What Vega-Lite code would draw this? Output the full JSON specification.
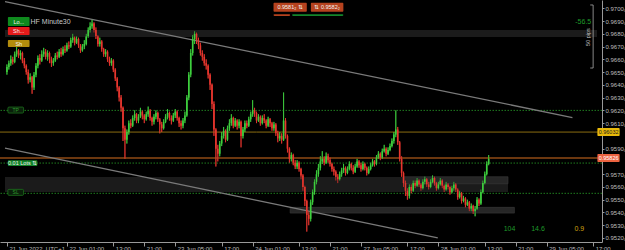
{
"$schema": "https://vega.github.io/schema/vega-lite/v6.json",
"width": 602, "height": 242,
"autosize": {"type": "none"},
"padding": {"left": 0, "top": 0, "right": 23, "bottom": 8},
"background": "#000000",
"config": {"view": {"stroke": null}, "font": "Liberation Sans", "axis": {"labelOverlap": false, "labelFontSize": 6, "grid": false, "title": null}},
"resolve": {"scale": {"color": "independent"}, "axis": {"x": "independent", "y": "independent"}},
"datasets": {
"candles": [
{"k":-31,"o":0.9650,"h":0.9656,"l":0.9648,"c":0.9654},
{"k":-30,"o":0.9654,"h":0.9659,"l":0.9652,"c":0.9657},
{"k":-29,"o":0.9657,"h":0.9663,"l":0.9655,"c":0.9660},
{"k":-28,"o":0.9660,"h":0.9662,"l":0.9656,"c":0.9658},
{"k":-27,"o":0.9658,"h":0.9666,"l":0.9657,"c":0.9664},
{"k":-26,"o":0.9664,"h":0.9670,"l":0.9662,"c":0.9667},
{"k":-25,"o":0.9667,"h":0.9668,"l":0.9661,"c":0.9663},
{"k":-24,"o":0.9663,"h":0.9667,"l":0.9660,"c":0.9665},
{"k":-23,"o":0.9665,"h":0.9666,"l":0.9657,"c":0.9659},
{"k":-22,"o":0.9659,"h":0.9661,"l":0.9653,"c":0.9655},
{"k":-21,"o":0.9655,"h":0.9656,"l":0.9648,"c":0.9650},
{"k":-20,"o":0.9650,"h":0.9652,"l":0.9641,"c":0.9644},
{"k":-19,"o":0.9644,"h":0.9649,"l":0.9642,"c":0.9646},
{"k":-18,"o":0.9646,"h":0.9647,"l":0.9633,"c":0.9638},
{"k":-17,"o":0.9638,"h":0.9650,"l":0.9636,"c":0.9648},
{"k":-16,"o":0.9648,"h":0.9657,"l":0.9646,"c":0.9655},
{"k":-15,"o":0.9655,"h":0.9663,"l":0.9653,"c":0.9661},
{"k":-14,"o":0.9661,"h":0.9664,"l":0.9656,"c":0.9659},
{"k":-13,"o":0.9659,"h":0.9667,"l":0.9658,"c":0.9664},
{"k":-12,"o":0.9664,"h":0.9669,"l":0.9662,"c":0.9666},
{"k":-11,"o":0.9666,"h":0.9668,"l":0.9660,"c":0.9662},
{"k":-10,"o":0.9662,"h":0.9667,"l":0.9659,"c":0.9665},
{"k":-9,"o":0.9665,"h":0.9666,"l":0.9657,"c":0.9660},
{"k":-8,"o":0.9660,"h":0.9662,"l":0.9654,"c":0.9657},
{"k":-7,"o":0.9657,"h":0.9661,"l":0.9655,"c":0.9659},
{"k":-6,"o":0.9659,"h":0.9665,"l":0.9658,"c":0.9663},
{"k":-5,"o":0.9663,"h":0.9666,"l":0.9660,"c":0.9662},
{"k":-4,"o":0.9662,"h":0.9668,"l":0.9661,"c":0.9666},
{"k":-3,"o":0.9666,"h":0.9669,"l":0.9662,"c":0.9664},
{"k":-2,"o":0.9664,"h":0.9670,"l":0.9663,"c":0.9668},
{"k":-1,"o":0.9668,"h":0.9671,"l":0.9665,"c":0.9667},
{"k":0,"o":0.9667,"h":0.9673,"l":0.9666,"c":0.9671},
{"k":1,"o":0.9671,"h":0.9674,"l":0.9668,"c":0.9670},
{"k":2,"o":0.9670,"h":0.9677,"l":0.9669,"c":0.9675},
{"k":3,"o":0.9675,"h":0.9680,"l":0.9673,"c":0.9677},
{"k":4,"o":0.9677,"h":0.9678,"l":0.9671,"c":0.9673},
{"k":5,"o":0.9673,"h":0.9678,"l":0.9672,"c":0.9676},
{"k":6,"o":0.9676,"h":0.9677,"l":0.9669,"c":0.9671},
{"k":7,"o":0.9671,"h":0.9672,"l":0.9665,"c":0.9667},
{"k":8,"o":0.9667,"h":0.9672,"l":0.9666,"c":0.9670},
{"k":9,"o":0.9670,"h":0.9675,"l":0.9668,"c":0.9672},
{"k":10,"o":0.9672,"h":0.9680,"l":0.9671,"c":0.9678},
{"k":11,"o":0.9678,"h":0.9685,"l":0.9677,"c":0.9683},
{"k":12,"o":0.9683,"h":0.9689,"l":0.9681,"c":0.9686},
{"k":13,"o":0.9686,"h":0.9691,"l":0.9684,"c":0.9688},
{"k":14,"o":0.9688,"h":0.9689,"l":0.9681,"c":0.9683},
{"k":15,"o":0.9683,"h":0.9685,"l":0.9676,"c":0.9678},
{"k":16,"o":0.9678,"h":0.9679,"l":0.9670,"c":0.9672},
{"k":17,"o":0.9672,"h":0.9677,"l":0.9670,"c":0.9674},
{"k":18,"o":0.9674,"h":0.9675,"l":0.9666,"c":0.9668},
{"k":19,"o":0.9668,"h":0.9669,"l":0.9662,"c":0.9664},
{"k":20,"o":0.9664,"h":0.9668,"l":0.9662,"c":0.9666},
{"k":21,"o":0.9666,"h":0.9667,"l":0.9658,"c":0.9660},
{"k":22,"o":0.9660,"h":0.9662,"l":0.9655,"c":0.9657},
{"k":23,"o":0.9657,"h":0.9661,"l":0.9655,"c":0.9659},
{"k":24,"o":0.9659,"h":0.9660,"l":0.9650,"c":0.9652},
{"k":25,"o":0.9652,"h":0.9653,"l":0.9643,"c":0.9645},
{"k":26,"o":0.9645,"h":0.9646,"l":0.9635,"c":0.9638},
{"k":27,"o":0.9638,"h":0.9639,"l":0.9627,"c":0.9630},
{"k":28,"o":0.9630,"h":0.9632,"l":0.9619,"c":0.9622},
{"k":29,"o":0.9622,"h":0.9623,"l":0.9596,"c":0.9606},
{"k":30,"o":0.9606,"h":0.9608,"l":0.9582,"c":0.9597},
{"k":31,"o":0.9597,"h":0.9605,"l":0.9594,"c":0.9603},
{"k":32,"o":0.9603,"h":0.9612,"l":0.9601,"c":0.9610},
{"k":33,"o":0.9610,"h":0.9613,"l":0.9606,"c":0.9608},
{"k":34,"o":0.9608,"h":0.9616,"l":0.9607,"c":0.9614},
{"k":35,"o":0.9614,"h":0.9620,"l":0.9612,"c":0.9617},
{"k":36,"o":0.9617,"h":0.9618,"l":0.9610,"c":0.9612},
{"k":37,"o":0.9612,"h":0.9617,"l":0.9610,"c":0.9615},
{"k":38,"o":0.9615,"h":0.9622,"l":0.9614,"c":0.9619},
{"k":39,"o":0.9619,"h":0.9620,"l":0.9613,"c":0.9616},
{"k":40,"o":0.9616,"h":0.9617,"l":0.9610,"c":0.9613},
{"k":41,"o":0.9613,"h":0.9619,"l":0.9612,"c":0.9617},
{"k":42,"o":0.9617,"h":0.9623,"l":0.9615,"c":0.9620},
{"k":43,"o":0.9620,"h":0.9621,"l":0.9612,"c":0.9614},
{"k":44,"o":0.9614,"h":0.9615,"l":0.9608,"c":0.9611},
{"k":45,"o":0.9611,"h":0.9617,"l":0.9609,"c":0.9615},
{"k":46,"o":0.9615,"h":0.9620,"l":0.9613,"c":0.9618},
{"k":47,"o":0.9618,"h":0.9619,"l":0.9611,"c":0.9613},
{"k":48,"o":0.9613,"h":0.9614,"l":0.9602,"c":0.9609},
{"k":49,"o":0.9609,"h":0.9611,"l":0.9603,"c":0.9606},
{"k":50,"o":0.9606,"h":0.9613,"l":0.9605,"c":0.9611},
{"k":51,"o":0.9611,"h":0.9617,"l":0.9610,"c":0.9615},
{"k":52,"o":0.9615,"h":0.9621,"l":0.9613,"c":0.9618},
{"k":53,"o":0.9618,"h":0.9619,"l":0.9612,"c":0.9614},
{"k":54,"o":0.9614,"h":0.9616,"l":0.9609,"c":0.9612},
{"k":55,"o":0.9612,"h":0.9618,"l":0.9611,"c":0.9616},
{"k":56,"o":0.9616,"h":0.9621,"l":0.9614,"c":0.9619},
{"k":57,"o":0.9619,"h":0.9620,"l":0.9612,"c":0.9614},
{"k":58,"o":0.9614,"h":0.9615,"l":0.9607,"c":0.9610},
{"k":59,"o":0.9610,"h":0.9612,"l":0.9605,"c":0.9608},
{"k":60,"o":0.9608,"h":0.9614,"l":0.9606,"c":0.9612},
{"k":61,"o":0.9612,"h":0.9619,"l":0.9610,"c":0.9616},
{"k":62,"o":0.9616,"h":0.9632,"l":0.9615,"c":0.9630},
{"k":63,"o":0.9630,"h":0.9650,"l":0.9628,"c":0.9648},
{"k":64,"o":0.9648,"h":0.9668,"l":0.9646,"c":0.9665},
{"k":65,"o":0.9665,"h":0.9679,"l":0.9663,"c":0.9676},
{"k":66,"o":0.9676,"h":0.9682,"l":0.9672,"c":0.9680},
{"k":67,"o":0.9680,"h":0.9681,"l":0.9672,"c":0.9675},
{"k":68,"o":0.9675,"h":0.9677,"l":0.9668,"c":0.9671},
{"k":69,"o":0.9671,"h":0.9673,"l":0.9663,"c":0.9665},
{"k":70,"o":0.9665,"h":0.9667,"l":0.9659,"c":0.9662},
{"k":71,"o":0.9662,"h":0.9664,"l":0.9655,"c":0.9657},
{"k":72,"o":0.9657,"h":0.9660,"l":0.9652,"c":0.9655},
{"k":73,"o":0.9655,"h":0.9656,"l":0.9645,"c":0.9648},
{"k":74,"o":0.9648,"h":0.9649,"l":0.9636,"c":0.9640},
{"k":75,"o":0.9640,"h":0.9641,"l":0.9621,"c":0.9625},
{"k":76,"o":0.9625,"h":0.9627,"l":0.9600,"c":0.9605},
{"k":77,"o":0.9605,"h":0.9606,"l":0.9576,"c":0.9590},
{"k":78,"o":0.9590,"h":0.9593,"l":0.9580,"c":0.9586},
{"k":79,"o":0.9586,"h":0.9596,"l":0.9584,"c":0.9594},
{"k":80,"o":0.9594,"h":0.9603,"l":0.9592,"c":0.9600},
{"k":81,"o":0.9600,"h":0.9607,"l":0.9598,"c":0.9604},
{"k":82,"o":0.9604,"h":0.9605,"l":0.9595,"c":0.9597},
{"k":83,"o":0.9597,"h":0.9608,"l":0.9596,"c":0.9606},
{"k":84,"o":0.9606,"h":0.9613,"l":0.9604,"c":0.9610},
{"k":85,"o":0.9610,"h":0.9617,"l":0.9608,"c":0.9614},
{"k":86,"o":0.9614,"h":0.9615,"l":0.9606,"c":0.9608},
{"k":87,"o":0.9608,"h":0.9614,"l":0.9607,"c":0.9612},
{"k":88,"o":0.9612,"h":0.9613,"l":0.9605,"c":0.9608},
{"k":89,"o":0.9608,"h":0.9613,"l":0.9606,"c":0.9611},
{"k":90,"o":0.9611,"h":0.9612,"l":0.9591,"c":0.9600},
{"k":91,"o":0.9600,"h":0.9607,"l":0.9598,"c":0.9605},
{"k":92,"o":0.9605,"h":0.9612,"l":0.9603,"c":0.9610},
{"k":93,"o":0.9610,"h":0.9612,"l":0.9606,"c":0.9608},
{"k":94,"o":0.9608,"h":0.9615,"l":0.9607,"c":0.9613},
{"k":95,"o":0.9613,"h":0.9619,"l":0.9611,"c":0.9617},
{"k":96,"o":0.9617,"h":0.9628,"l":0.9615,"c":0.9620},
{"k":97,"o":0.9620,"h":0.9622,"l":0.9615,"c":0.9618},
{"k":98,"o":0.9618,"h":0.9619,"l":0.9610,"c":0.9612},
{"k":99,"o":0.9612,"h":0.9617,"l":0.9611,"c":0.9615},
{"k":100,"o":0.9615,"h":0.9616,"l":0.9608,"c":0.9610},
{"k":101,"o":0.9610,"h":0.9616,"l":0.9609,"c":0.9614},
{"k":102,"o":0.9614,"h":0.9617,"l":0.9610,"c":0.9612},
{"k":103,"o":0.9612,"h":0.9613,"l":0.9606,"c":0.9608},
{"k":104,"o":0.9608,"h":0.9615,"l":0.9607,"c":0.9613},
{"k":105,"o":0.9613,"h":0.9614,"l":0.9607,"c":0.9610},
{"k":106,"o":0.9610,"h":0.9611,"l":0.9604,"c":0.9606},
{"k":107,"o":0.9606,"h":0.9611,"l":0.9604,"c":0.9609},
{"k":108,"o":0.9609,"h":0.9610,"l":0.9600,"c":0.9602},
{"k":109,"o":0.9602,"h":0.9604,"l":0.9595,"c":0.9598},
{"k":110,"o":0.9598,"h":0.9603,"l":0.9596,"c":0.9600},
{"k":111,"o":0.9600,"h":0.9602,"l":0.9594,"c":0.9597},
{"k":112,"o":0.9597,"h":0.9634,"l":0.9596,"c":0.9612},
{"k":113,"o":0.9612,"h":0.9614,"l":0.9598,"c":0.9600},
{"k":114,"o":0.9600,"h":0.9601,"l":0.9587,"c":0.9590},
{"k":115,"o":0.9590,"h":0.9591,"l":0.9579,"c":0.9582},
{"k":116,"o":0.9582,"h":0.9587,"l":0.9580,"c":0.9585},
{"k":117,"o":0.9585,"h":0.9586,"l":0.9577,"c":0.9579},
{"k":118,"o":0.9579,"h":0.9581,"l":0.9574,"c":0.9576},
{"k":119,"o":0.9576,"h":0.9581,"l":0.9574,"c":0.9579},
{"k":120,"o":0.9579,"h":0.9580,"l":0.9572,"c":0.9574},
{"k":121,"o":0.9574,"h":0.9575,"l":0.9566,"c":0.9569},
{"k":122,"o":0.9569,"h":0.9570,"l":0.9557,"c":0.9560},
{"k":123,"o":0.9560,"h":0.9561,"l":0.9545,"c":0.9549},
{"k":124,"o":0.9549,"h":0.9550,"l":0.9525,"c":0.9538},
{"k":125,"o":0.9538,"h":0.9541,"l":0.9530,"c":0.9535},
{"k":126,"o":0.9535,"h":0.9550,"l":0.9533,"c":0.9548},
{"k":127,"o":0.9548,"h":0.9558,"l":0.9546,"c":0.9556},
{"k":128,"o":0.9556,"h":0.9566,"l":0.9554,"c":0.9564},
{"k":129,"o":0.9564,"h":0.9573,"l":0.9562,"c":0.9570},
{"k":130,"o":0.9570,"h":0.9578,"l":0.9568,"c":0.9575},
{"k":131,"o":0.9575,"h":0.9584,"l":0.9573,"c":0.9580},
{"k":132,"o":0.9580,"h":0.9588,"l":0.9578,"c":0.9582},
{"k":133,"o":0.9582,"h":0.9584,"l":0.9577,"c":0.9579},
{"k":134,"o":0.9579,"h":0.9587,"l":0.9578,"c":0.9584},
{"k":135,"o":0.9584,"h":0.9586,"l":0.9579,"c":0.9581},
{"k":136,"o":0.9581,"h":0.9583,"l":0.9576,"c":0.9578},
{"k":137,"o":0.9578,"h":0.9579,"l":0.9572,"c":0.9574},
{"k":138,"o":0.9574,"h":0.9576,"l":0.9569,"c":0.9572},
{"k":139,"o":0.9572,"h":0.9573,"l":0.9565,"c":0.9568},
{"k":140,"o":0.9568,"h":0.9570,"l":0.9563,"c":0.9566},
{"k":141,"o":0.9566,"h":0.9572,"l":0.9565,"c":0.9570},
{"k":142,"o":0.9570,"h":0.9575,"l":0.9568,"c":0.9573},
{"k":143,"o":0.9573,"h":0.9578,"l":0.9571,"c":0.9575},
{"k":144,"o":0.9575,"h":0.9576,"l":0.9569,"c":0.9571},
{"k":145,"o":0.9571,"h":0.9576,"l":0.9570,"c":0.9574},
{"k":146,"o":0.9574,"h":0.9580,"l":0.9573,"c":0.9578},
{"k":147,"o":0.9578,"h":0.9579,"l":0.9573,"c":0.9575},
{"k":148,"o":0.9575,"h":0.9577,"l":0.9570,"c":0.9572},
{"k":149,"o":0.9572,"h":0.9578,"l":0.9571,"c":0.9576},
{"k":150,"o":0.9576,"h":0.9582,"l":0.9575,"c":0.9580},
{"k":151,"o":0.9580,"h":0.9581,"l":0.9575,"c":0.9577},
{"k":152,"o":0.9577,"h":0.9579,"l":0.9572,"c":0.9574},
{"k":153,"o":0.9574,"h":0.9580,"l":0.9573,"c":0.9578},
{"k":154,"o":0.9578,"h":0.9579,"l":0.9573,"c":0.9575},
{"k":155,"o":0.9575,"h":0.9576,"l":0.9569,"c":0.9571},
{"k":156,"o":0.9571,"h":0.9576,"l":0.9570,"c":0.9574},
{"k":157,"o":0.9574,"h":0.9579,"l":0.9573,"c":0.9577},
{"k":158,"o":0.9577,"h":0.9582,"l":0.9576,"c":0.9580},
{"k":159,"o":0.9580,"h":0.9581,"l":0.9576,"c":0.9578},
{"k":160,"o":0.9578,"h":0.9585,"l":0.9577,"c":0.9583},
{"k":161,"o":0.9583,"h":0.9588,"l":0.9582,"c":0.9586},
{"k":162,"o":0.9586,"h":0.9587,"l":0.9581,"c":0.9583},
{"k":163,"o":0.9583,"h":0.9590,"l":0.9582,"c":0.9588},
{"k":164,"o":0.9588,"h":0.9593,"l":0.9587,"c":0.9590},
{"k":165,"o":0.9590,"h":0.9591,"l":0.9584,"c":0.9586},
{"k":166,"o":0.9586,"h":0.9591,"l":0.9585,"c":0.9589},
{"k":167,"o":0.9589,"h":0.9594,"l":0.9588,"c":0.9592},
{"k":168,"o":0.9592,"h":0.9598,"l":0.9591,"c":0.9596},
{"k":169,"o":0.9596,"h":0.9603,"l":0.9594,"c":0.9601},
{"k":170,"o":0.9601,"h":0.9620,"l":0.9599,"c":0.9605},
{"k":171,"o":0.9605,"h":0.9607,"l":0.9593,"c":0.9595},
{"k":172,"o":0.9595,"h":0.9596,"l":0.9580,"c":0.9582},
{"k":173,"o":0.9582,"h":0.9584,"l":0.9568,"c":0.9571},
{"k":174,"o":0.9571,"h":0.9572,"l":0.9560,"c":0.9563},
{"k":175,"o":0.9563,"h":0.9565,"l":0.9553,"c":0.9557},
{"k":176,"o":0.9557,"h":0.9559,"l":0.9550,"c":0.9553},
{"k":177,"o":0.9553,"h":0.9562,"l":0.9551,"c":0.9560},
{"k":178,"o":0.9560,"h":0.9562,"l":0.9555,"c":0.9557},
{"k":179,"o":0.9557,"h":0.9565,"l":0.9556,"c":0.9563},
{"k":180,"o":0.9563,"h":0.9565,"l":0.9559,"c":0.9561},
{"k":181,"o":0.9561,"h":0.9567,"l":0.9560,"c":0.9565},
{"k":182,"o":0.9565,"h":0.9566,"l":0.9560,"c":0.9562},
{"k":183,"o":0.9562,"h":0.9563,"l":0.9557,"c":0.9559},
{"k":184,"o":0.9559,"h":0.9566,"l":0.9558,"c":0.9564},
{"k":185,"o":0.9564,"h":0.9568,"l":0.9562,"c":0.9566},
{"k":186,"o":0.9566,"h":0.9567,"l":0.9560,"c":0.9562},
{"k":187,"o":0.9562,"h":0.9564,"l":0.9558,"c":0.9560},
{"k":188,"o":0.9560,"h":0.9566,"l":0.9559,"c":0.9564},
{"k":189,"o":0.9564,"h":0.9569,"l":0.9563,"c":0.9567},
{"k":190,"o":0.9567,"h":0.9568,"l":0.9561,"c":0.9563},
{"k":191,"o":0.9563,"h":0.9564,"l":0.9557,"c":0.9559},
{"k":192,"o":0.9559,"h":0.9564,"l":0.9558,"c":0.9562},
{"k":193,"o":0.9562,"h":0.9567,"l":0.9561,"c":0.9565},
{"k":194,"o":0.9565,"h":0.9566,"l":0.9559,"c":0.9561},
{"k":195,"o":0.9561,"h":0.9562,"l":0.9556,"c":0.9558},
{"k":196,"o":0.9558,"h":0.9564,"l":0.9557,"c":0.9562},
{"k":197,"o":0.9562,"h":0.9563,"l":0.9558,"c":0.9560},
{"k":198,"o":0.9560,"h":0.9561,"l":0.9554,"c":0.9556},
{"k":199,"o":0.9556,"h":0.9561,"l":0.9555,"c":0.9559},
{"k":200,"o":0.9559,"h":0.9564,"l":0.9557,"c":0.9562},
{"k":201,"o":0.9562,"h":0.9563,"l":0.9556,"c":0.9558},
{"k":202,"o":0.9558,"h":0.9559,"l":0.9550,"c":0.9552},
{"k":203,"o":0.9552,"h":0.9557,"l":0.9551,"c":0.9555},
{"k":204,"o":0.9555,"h":0.9556,"l":0.9547,"c":0.9549},
{"k":205,"o":0.9549,"h":0.9553,"l":0.9548,"c":0.9551},
{"k":206,"o":0.9551,"h":0.9552,"l":0.9544,"c":0.9546},
{"k":207,"o":0.9546,"h":0.9550,"l":0.9545,"c":0.9548},
{"k":208,"o":0.9548,"h":0.9549,"l":0.9541,"c":0.9543},
{"k":209,"o":0.9543,"h":0.9547,"l":0.9541,"c":0.9545},
{"k":210,"o":0.9545,"h":0.9546,"l":0.9539,"c":0.9541},
{"k":211,"o":0.9541,"h":0.9545,"l":0.9537,"c":0.9543},
{"k":212,"o":0.9543,"h":0.9552,"l":0.9542,"c":0.9550},
{"k":213,"o":0.9550,"h":0.9551,"l":0.9545,"c":0.9547},
{"k":214,"o":0.9547,"h":0.9558,"l":0.9546,"c":0.9556},
{"k":215,"o":0.9556,"h":0.9565,"l":0.9555,"c":0.9563},
{"k":216,"o":0.9563,"h":0.9572,"l":0.9562,"c":0.9570},
{"k":217,"o":0.9570,"h":0.9580,"l":0.9569,"c":0.9578},
{"k":218,"o":0.9578,"h":0.9585,"l":0.9577,"c":0.9582}
]
},
"layer": [
{
"data": {"name": "candles"},
"mark": {"type": "rule", "strokeWidth": 0.8},
"encoding": {
"x": {"field": "k", "type": "quantitative", "scale": {"domain": [-32, 274], "nice": false, "zero": false},
"axis": {"values": [-31,0,24,40,56,80,96,120,136,152,176,192,216,232,248,272],
"labelExpr": "['21 Jun 2022, UTC+1','22 Jun 01:00','13:00','21:00','23 Jun 05:00','17:00','24 Jun 01:00','13:00','21:00','27 Jun 05:00','17:00','28 Jun 01:00','13:00','21:00','29 Jun 05:00','17:00'][indexof([-31,0,24,40,56,80,96,120,136,152,176,192,216,232,248,272], datum.value)]",
"labelAlign": "left", "labelOffset": 2, "labelColor": "#bdbdbd", "labelFontSize": 6, "labelPadding": -1,
"labelOverlap": false, "labelBound": false, "labelFlush": false,
"tickColor": "#999999", "tickSize": 4, "domainColor": "#999999", "grid": false, "title": null}},
"y": {"field": "l", "type": "quantitative", "scale": {"domain": [0.951685, 0.97065], "nice": false, "zero": false},
"axis": {"orient": "right", "values": [0.952,0.953,0.954,0.955,0.956,0.957,0.959,0.961,0.962,0.963,0.964,0.965,0.966,0.967,0.968,0.969,0.97],
"labelExpr": "format(datum.value, '.4f') + '₀'", "labelColor": "#bdbdbd", "labelFontSize": 6, "labelPadding": 1,
"labelOverlap": false, "labelBound": false, "labelFlush": false,
"tickColor": "#999999", "tickSize": 2, "domainColor": "#999999", "grid": false, "title": null}},
"y2": {"field": "h"},
"color": {"condition": {"test": "datum.c >= datum.o", "value": "#3ecf3e"}, "value": "#e8362e"}
}
},
{
"data": {"values": [{"k":-32,"k2":274,"p":0.9683,"p2":0.96775},{"k":-32,"k2":228,"p":0.95677,"p2":0.9556}]},
"mark": {"type": "rect", "fill": "#1b1b1b"},
"encoding": {
"x": {"field": "k", "type": "quantitative", "scale": {"domain": [-32, 274], "nice": false, "zero": false}, "axis": null},
"x2": {"field": "k2"},
"y": {"field": "p", "type": "quantitative", "scale": {"domain": [0.951685, 0.97065], "nice": false, "zero": false}, "axis": null},
"y2": {"field": "p2"}
}
},
{
"data": {"values": [{"k":174,"k2":228,"p":0.9568,"p2":0.95625},{"k":115.4,"k2":231.3,"p":0.9544,"p2":0.95395}]},
"mark": {"type": "rect", "fill": "#262626", "stroke": "#3a3a3a", "strokeWidth": 0.6},
"encoding": {
"x": {"field": "k", "type": "quantitative", "scale": {"domain": [-32, 274], "nice": false, "zero": false}, "axis": null},
"x2": {"field": "k2"},
"y": {"field": "p", "type": "quantitative", "scale": {"domain": [0.951685, 0.97065], "nice": false, "zero": false}, "axis": null},
"y2": {"field": "p2"}
}
},
{
"data": {"values": [{"p":0.9620},{"p":0.95787},{"p":0.9555}]},
"mark": {"type": "rule", "stroke": "#1f7d1f", "strokeWidth": 1, "strokeDash": [1.5, 1.5]},
"encoding": {
"y": {"field": "p", "type": "quantitative", "scale": {"domain": [0.951685, 0.97065], "nice": false, "zero": false}, "axis": null}
}
},
{
"data": {"values": [{"p":0.9603}]},
"mark": {"type": "rule", "stroke": "#8a6c10", "strokeWidth": 1},
"encoding": {
"y": {"field": "p", "type": "quantitative", "scale": {"domain": [0.951685, 0.97065], "nice": false, "zero": false}, "axis": null}
}
},
{
"data": {"values": [{"p":0.95826}]},
"mark": {"type": "rule", "stroke": "#8f4a14", "strokeWidth": 1.5},
"encoding": {
"y": {"field": "p", "type": "quantitative", "scale": {"domain": [0.951685, 0.97065], "nice": false, "zero": false}, "axis": null}
}
},
{
"data": {"values": [{"id":"a","k":-32,"p":0.97052},{"id":"a","k":261.3,"p":0.96144},{"id":"b","k":-32,"p":0.95905},{"id":"b","k":191.7,"p":0.9520}]},
"mark": {"type": "line", "stroke": "#7a7a7a", "strokeWidth": 1.3},
"encoding": {
"x": {"field": "k", "type": "quantitative", "scale": {"domain": [-32, 274], "nice": false, "zero": false}, "axis": null},
"y": {"field": "p", "type": "quantitative", "scale": {"domain": [0.951685, 0.97065], "nice": false, "zero": false}, "axis": null},
"detail": {"field": "id"}
}
},
{
"data": {"name": "candles"},
"mark": {"type": "rule", "strokeWidth": 0.8},
"encoding": {
"x": {"field": "k", "type": "quantitative", "scale": {"domain": [-32, 274], "nice": false, "zero": false}, "axis": null},
"y": {"field": "l", "type": "quantitative", "scale": {"domain": [0.951685, 0.97065], "nice": false, "zero": false}, "axis": null},
"y2": {"field": "h"},
"color": {"condition": {"test": "datum.c >= datum.o", "value": "#3ecf3e"}, "value": "#e8362e"}
}
},
{
"data": {"name": "candles"},
"mark": {"type": "bar", "size": 1.6},
"encoding": {
"x": {"field": "k", "type": "quantitative", "scale": {"domain": [-32, 274], "nice": false, "zero": false}, "axis": null},
"y": {"field": "o", "type": "quantitative", "scale": {"domain": [0.951685, 0.97065], "nice": false, "zero": false}, "axis": null},
"y2": {"field": "c"},
"color": {"condition": {"test": "datum.c >= datum.o", "value": "#3ecf3e"}, "value": "#e8362e"}
}
},
{
"data": {"values": [{"k":270.5,"p":0.97026,"o":1},{"k":272.0,"p":0.97026,"o":2},{"k":272.0,"p":0.96532,"o":3},{"k":270.5,"p":0.96532,"o":4}]},
"mark": {"type": "line", "stroke": "#aaaaaa", "strokeWidth": 0.8},
"encoding": {
"x": {"field": "k", "type": "quantitative", "scale": {"domain": [-32, 274], "nice": false, "zero": false}, "axis": null},
"y": {"field": "p", "type": "quantitative", "scale": {"domain": [0.951685, 0.97065], "nice": false, "zero": false}, "axis": null},
"order": {"field": "o"}
}
},
{
"data": {"values": [{"k":-30.5,"k2":-19.3,"p":0.96932,"p2":0.96861,"b":"g"},{"k":-30.5,"k2":-19.3,"p":0.96853,"p2":0.9679,"b":"r"},{"k":-30.5,"k2":-19.3,"p":0.96751,"p2":0.96697,"b":"y"},{"k":106.8,"k2":124.0,"p":0.97044,"p2":0.96973,"b":"o"},{"k":126.1,"k2":142.9,"p":0.97044,"p2":0.96973,"b":"o"},{"k":106.8,"k2":115.4,"p":0.96953,"p2":0.96940,"b":"o"},{"k":116.4,"k2":142.9,"p":0.96953,"p2":0.96940,"b":"d"},{"k":-30.5,"k2":-15.3,"p":0.9581,"p2":0.95764,"b":"d"}]},
"mark": {"type": "rect", "cornerRadius": 1},
"encoding": {
"x": {"field": "k", "type": "quantitative", "scale": {"domain": [-32, 274], "nice": false, "zero": false}, "axis": null},
"x2": {"field": "k2"},
"y": {"field": "p", "type": "quantitative", "scale": {"domain": [0.951685, 0.97065], "nice": false, "zero": false}, "axis": null},
"y2": {"field": "p2"},
"color": {"field": "b", "type": "nominal", "scale": {"domain": ["g","r","y","o","d"], "range": ["#0f8a1e","#e51b1b","#b38c0c","#b5421e","#13852a"]}, "legend": null}
}
},
{
"data": {"values": [{"k":-30.5,"k2":-22.4,"p":0.96226,"p2":0.96179},{"k":-30.5,"k2":-22.4,"p":0.95581,"p2":0.95534}]},
"mark": {"type": "rect", "fill": "#0a1f0a", "stroke": "#1f7d1f", "strokeWidth": 0.7, "cornerRadius": 1},
"encoding": {
"x": {"field": "k", "type": "quantitative", "scale": {"domain": [-32, 274], "nice": false, "zero": false}, "axis": null},
"x2": {"field": "k2"},
"y": {"field": "p", "type": "quantitative", "scale": {"domain": [0.951685, 0.97065], "nice": false, "zero": false}, "axis": null},
"y2": {"field": "p2"}
}
},
{
"data": {"values": [{"k":274.2,"k2":285.7,"p":0.96061,"p2":0.95999,"b":"y"},{"k":274.2,"k2":285.7,"p":0.95858,"p2":0.95795,"b":"o"}]},
"mark": {"type": "rect", "clip": false, "cornerRadius": 1},
"encoding": {
"x": {"field": "k", "type": "quantitative", "scale": {"domain": [-32, 274], "nice": false, "zero": false}, "axis": null},
"x2": {"field": "k2"},
"y": {"field": "p", "type": "quantitative", "scale": {"domain": [0.951685, 0.97065], "nice": false, "zero": false}, "axis": null},
"y2": {"field": "p2"},
"color": {"field": "b", "type": "nominal", "scale": {"domain": ["y","o"], "range": ["#e8b90a","#ec6340"]}, "legend": null}
}
},
{
"data": {"values": [{"k":-24.9,"p":0.96896,"t":"Lo..."},{"k":-24.9,"p":0.96821,"t":"Sh..."},{"k":-24.9,"p":0.96724,"t":"Sh"},{"k":115.4,"p":0.97008,"t":"0.9581₂   ⇅"},{"k":134.5,"p":0.97008,"t":"⇅   0.9582₂"},{"k":-22.9,"p":0.95787,"t":"0.01 Lots ⇅"}]},
"mark": {"type": "text", "fontSize": 5.5, "color": "#f2f2f2", "baseline": "middle", "align": "center"},
"encoding": {
"x": {"field": "k", "type": "quantitative", "scale": {"domain": [-32, 274], "nice": false, "zero": false}, "axis": null},
"y": {"field": "p", "type": "quantitative", "scale": {"domain": [0.951685, 0.97065], "nice": false, "zero": false}, "axis": null},
"text": {"field": "t"}
}
},
{
"data": {"values": [{"k":-26.5,"p":0.96203,"t":"TP"},{"k":-26.5,"p":0.95557,"t":"SL"}]},
"mark": {"type": "text", "fontSize": 5, "color": "#2f9a2f", "baseline": "middle", "align": "center"},
"encoding": {
"x": {"field": "k", "type": "quantitative", "scale": {"domain": [-32, 274], "nice": false, "zero": false}, "axis": null},
"y": {"field": "p", "type": "quantitative", "scale": {"domain": [0.951685, 0.97065], "nice": false, "zero": false}, "axis": null},
"text": {"field": "t"}
}
},
{
"data": {"values": [{"k":-18.8,"p":0.96896,"t":"HF  Minute30"}]},
"mark": {"type": "text", "fontSize": 7, "color": "#c8c8c8", "baseline": "middle", "align": "left"},
"encoding": {
"x": {"field": "k", "type": "quantitative", "scale": {"domain": [-32, 274], "nice": false, "zero": false}, "axis": null},
"y": {"field": "p", "type": "quantitative", "scale": {"domain": [0.951685, 0.97065], "nice": false, "zero": false}, "axis": null},
"text": {"field": "t"}
}
},
{
"data": {"values": [{"k":280,"p":0.9603,"t":"0.96032"}]},
"mark": {"type": "text", "fontSize": 5.5, "baseline": "middle", "align": "center", "clip": false, "color": "#1a1a1a"},
"encoding": {
"x": {"field": "k", "type": "quantitative", "scale": {"domain": [-32, 274], "nice": false, "zero": false}, "axis": null},
"y": {"field": "p", "type": "quantitative", "scale": {"domain": [0.951685, 0.97065], "nice": false, "zero": false}, "axis": null},
"text": {"field": "t"}
}
},
{
"data": {"values": [{"k":280,"p":0.95826,"t":"0.95826"}]},
"mark": {"type": "text", "fontSize": 5.5, "baseline": "middle", "align": "center", "clip": false, "color": "#ffffff"},
"encoding": {
"x": {"field": "k", "type": "quantitative", "scale": {"domain": [-32, 274], "nice": false, "zero": false}, "axis": null},
"y": {"field": "p", "type": "quantitative", "scale": {"domain": [0.951685, 0.97065], "nice": false, "zero": false}, "axis": null},
"text": {"field": "t"}
}
},
{
"data": {"values": [{"k":266.9,"p":0.96892,"t":"-56.5"},{"k":228.8,"p":0.9527,"t":"104"},{"k":243.5,"p":0.9527,"t":"14.6"}]},
"mark": {"type": "text", "fontSize": 7, "baseline": "middle", "align": "center", "color": "#1f9a2a"},
"encoding": {
"x": {"field": "k", "type": "quantitative", "scale": {"domain": [-32, 274], "nice": false, "zero": false}, "axis": null},
"y": {"field": "p", "type": "quantitative", "scale": {"domain": [0.951685, 0.97065], "nice": false, "zero": false}, "axis": null},
"text": {"field": "t"}
}
},
{
"data": {"values": [{"k":264.9,"p":0.9527,"t":"0.9"}]},
"mark": {"type": "text", "fontSize": 7, "baseline": "middle", "align": "center", "color": "#d0a010"},
"encoding": {
"x": {"field": "k", "type": "quantitative", "scale": {"domain": [-32, 274], "nice": false, "zero": false}, "axis": null},
"y": {"field": "p", "type": "quantitative", "scale": {"domain": [0.951685, 0.97065], "nice": false, "zero": false}, "axis": null},
"text": {"field": "t"}
}
},
{
"data": {"values": [{"k":269.4,"p":0.96775,"t":"50 pips"}]},
"mark": {"type": "text", "fontSize": 5.5, "color": "#c0c0c0", "baseline": "middle", "align": "center", "angle": 270},
"encoding": {
"x": {"field": "k", "type": "quantitative", "scale": {"domain": [-32, 274], "nice": false, "zero": false}, "axis": null},
"y": {"field": "p", "type": "quantitative", "scale": {"domain": [0.951685, 0.97065], "nice": false, "zero": false}, "axis": null},
"text": {"field": "t"}
}
}
]
}
